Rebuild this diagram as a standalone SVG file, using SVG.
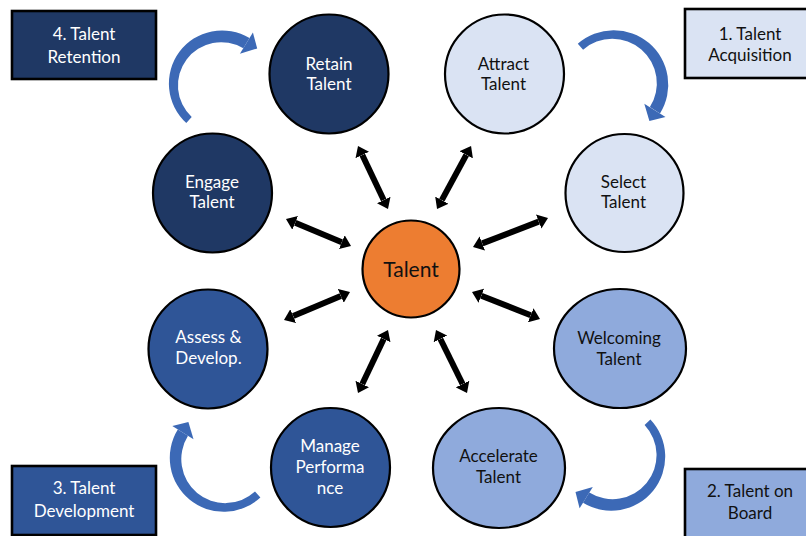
<svg xmlns="http://www.w3.org/2000/svg" width="806" height="536" viewBox="0 0 806 536">
  <style>
    text { font-family: Lato, "Liberation Sans", sans-serif; font-size: 17px; text-anchor: middle; }
    .node { stroke: #000; stroke-width: 2.2; }
    .box { stroke: #000; stroke-width: 2.6; }
    .navy { fill: #1f3864; }
    .pale { fill: #dae3f3; }
    .blue { fill: #2f5597; }
    .sky { fill: #8faadc; }
    .core { fill: #ed7d31; }
    .lt { fill: #ffffff; }
    .dk { fill: #111111; }
    .link { stroke: #000; stroke-width: 6; marker-start: url(#tip); marker-end: url(#tip); }
    .cycle { fill: #3c69b6; }
  </style>
  <defs>
    <marker id="tip" viewBox="0 0 10 15" refX="0" refY="7.5" markerWidth="10" markerHeight="15" markerUnits="userSpaceOnUse" orient="auto-start-reverse">
      <path d="M0,0 L10,7.5 L0,15 Z" fill="#000"/>
    </marker>
  </defs>
  <rect width="806" height="536" fill="#ffffff"/>

  <!-- phase labels -->
  <g id="phase-retention">
    <rect class="box navy" x="12" y="11" width="144" height="68"/>
    <text class="lt" x="84" y="39.5">4. Talent</text>
    <text class="lt" x="84" y="62.5">Retention</text>
  </g>
  <g id="phase-acquisition">
    <rect class="box pale" x="685" y="9" width="130" height="69"/>
    <text class="dk" x="750" y="39.5">1. Talent</text>
    <text class="dk" x="750" y="61">Acquisition</text>
  </g>
  <g id="phase-onboard">
    <rect class="box sky" x="685" y="469" width="130" height="72"/>
    <text class="dk" x="750" y="497">2. Talent on</text>
    <text class="dk" x="750" y="519">Board</text>
  </g>
  <g id="phase-development">
    <rect class="box blue" x="12" y="466" width="144" height="69"/>
    <text class="lt" x="84" y="494">3. Talent</text>
    <text class="lt" x="84" y="517">Development</text>
  </g>

  <!-- curved cycle arrows between neighbouring stages (tapered bodies + heads) -->
  <g id="cycle-arrows">
    <path class="cycle" d="M186.3,122.95 A53.2,53.2 0 0 1 249.5,38.0 L243.3,48.3 A43.2,43.2 0 0 0 191.7,117.0 Z"/>
    <polygon class="cycle" points="252.9,32.4 257.2,48.4 239.9,53.8"/>
    <path class="cycle" d="M577.8,43.7 A54.5,54.5 0 0 1 660.0,113.5 L649.9,107.1 A44.5,44.5 0 0 0 583.1,49.7 Z"/>
    <polygon class="cycle" points="665.5,116.9 649.4,121.0 644.3,103.7"/>
    <path class="cycle" d="M650.4,419.5 A54,54 0 0 1 583.0,502.7 L589.3,492.5 A44,44 0 0 0 644.6,425.0 Z"/>
    <polygon class="cycle" points="579.6,508.2 575.5,492.1 592.8,487.0"/>
    <path class="cycle" d="M260.4,497.5 A54,54 0 0 1 177.8,429.5 L188.0,435.8 A44,44 0 0 0 255.0,491.6 Z"/>
    <polygon class="cycle" points="172.3,426.1 188.4,422.0 193.5,439.3"/>
  </g>

  <!-- two-way links to the centre -->
  <g id="connectors">
    <line class="link" x1="362.3" y1="155" x2="383.7" y2="200"/>
    <line class="link" x1="466.3" y1="154.8" x2="441.8" y2="200.2"/>
    <line class="link" x1="295.2" y1="222.8" x2="341.8" y2="242.2"/>
    <line class="link" x1="538.7" y1="221.6" x2="482.3" y2="243.4"/>
    <line class="link" x1="293.2" y1="316.1" x2="340.8" y2="295.9"/>
    <line class="link" x1="530.7" y1="315.3" x2="481.3" y2="295.7"/>
    <line class="link" x1="362.3" y1="384" x2="383.7" y2="339"/>
    <line class="link" x1="462.6" y1="384" x2="440.4" y2="339"/>
  </g>

  <!-- stage nodes -->
  <g id="retain">
    <circle class="node navy" cx="329" cy="74" r="59.5"/>
    <text class="lt" x="329" y="69.5">Retain</text>
    <text class="lt" x="329" y="89.5">Talent</text>
  </g>
  <g id="attract">
    <circle class="node pale" cx="504.5" cy="74" r="59.5"/>
    <text class="dk" x="503.5" y="69.5">Attract</text>
    <text class="dk" x="503.5" y="89.5">Talent</text>
  </g>
  <g id="engage">
    <circle class="node navy" cx="212.5" cy="193" r="59.5"/>
    <text class="lt" x="212" y="188">Engage</text>
    <text class="lt" x="212" y="208">Talent</text>
  </g>
  <g id="select">
    <circle class="node pale" cx="624.5" cy="193" r="59"/>
    <text class="dk" x="623.5" y="188">Select</text>
    <text class="dk" x="623.5" y="208">Talent</text>
  </g>
  <g id="assess">
    <circle class="node blue" cx="208" cy="349" r="59.5"/>
    <text class="lt" x="208.5" y="343">Assess &amp;</text>
    <text class="lt" x="208.5" y="363.5">Develop.</text>
  </g>
  <g id="welcoming">
    <ellipse class="node sky" cx="620" cy="348.5" rx="66" ry="59.5"/>
    <text class="dk" x="619" y="343.5">Welcoming</text>
    <text class="dk" x="619" y="364.5">Talent</text>
  </g>
  <g id="manage">
    <circle class="node blue" cx="330.5" cy="467.5" r="59.5"/>
    <text class="lt" x="330" y="452">Manage</text>
    <text class="lt" x="330" y="473">Performa</text>
    <text class="lt" x="330" y="493.5">nce</text>
  </g>
  <g id="accelerate">
    <ellipse class="node sky" cx="499" cy="468" rx="66" ry="60"/>
    <text class="dk" x="498.5" y="462">Accelerate</text>
    <text class="dk" x="498.5" y="483">Talent</text>
  </g>
  <g id="talent">
    <circle class="node core" cx="411" cy="269" r="48.5"/>
    <text class="dk" x="411" y="276.5" style="font-size:21px">Talent</text>
  </g>
</svg>
